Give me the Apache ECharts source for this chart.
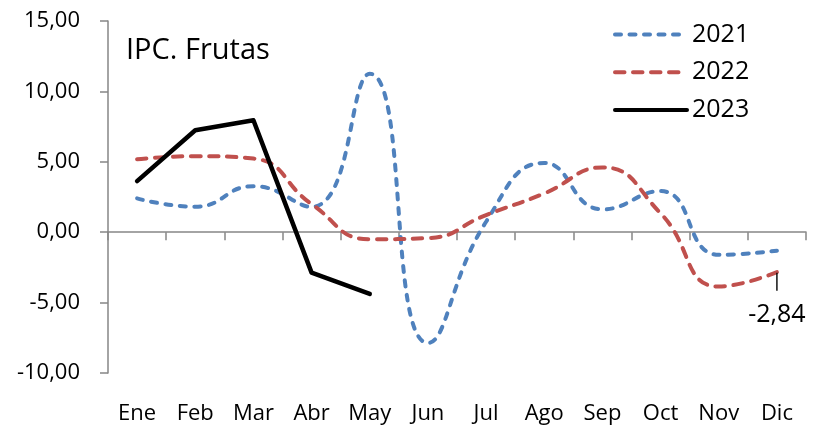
<!DOCTYPE html>
<html>
<head>
<meta charset="utf-8">
<script src="https://cdn.jsdelivr.net/npm/echarts@6/dist/echarts.min.js"></script>
<style>html,body{margin:0;padding:0;background:#fff;}#c{width:815px;height:427px;}</style>
</head>
<body>
<div id="c"></div>
<script>
const months = ['Ene','Feb','Mar','Abr','May','Jun','Jul','Ago','Sep','Oct','Nov','Dic'];
const s2021 = [2.40, 1.81, 3.27, 1.80, 11.25, -7.87, 0.74, 4.92, 1.62, 2.92, -1.61, -1.31];
const s2022 = [5.18, 5.40, 5.23, 2.00, -0.50, -0.42, 1.22, 2.75, 4.60, 1.34, -3.86, -2.84];
const s2023 = [3.63, 7.24, 7.95, -2.87, -4.38];
const yTicks = {min: -10, max: 15, interval: 5};
const FONT = 'Open Sans';

const fmt = v => v.toFixed(2).replace('.', ',');

const chart = echarts.init(document.getElementById('c'), null, {renderer: 'canvas'});
const lastIdx = s2022.length - 1;
const d2022 = s2022.map((v, i) => i === lastIdx ? {
  value: v, symbol: 'circle', symbolSize: 1, itemStyle: {color: 'rgba(0,0,0,0)'},
  label: {show: true, position: 'bottom', distance: 0, align: 'center',
    formatter: p => '{bar|}\n{t|' + fmt(p.value) + '}',
    rich: {
      bar: {width: 1.4, height: 18, backgroundColor: '#000', align: 'center'},
      t: {color: '#000', fontFamily: FONT, fontSize: 25, lineHeight: 48, align: 'center'}
    }}
} : v);

chart.setOption({
  animation: false,
  backgroundColor: '#fff',
  textStyle: {fontFamily: FONT},
  title: {text: 'IPC. Frutas', left: 121, top: 31, textStyle: {fontFamily: FONT, fontSize: 29, fontWeight: 'normal', color: '#000'}},
  legend: {
    orient: 'vertical', left: 608, top: 17, itemWidth: 72, itemHeight: 25, itemGap: 12.7,
    itemStyle: {opacity: 0},
    lineStyle: {width: 4},
    textStyle: {fontFamily: FONT, fontSize: 25, color: '#000'},
    data: ['2021', '2022', '2023']
  },
  grid: {left: 108, right: 9, top: 21, bottom: 54, containLabel: false},
  xAxis: [
    {type: 'category', data: months, boundaryGap: true,
     axisLine: {onZero: true, lineStyle: {color: '#868686', width: 1.5}},
     axisTick: {show: true, length: 8, lineStyle: {color: '#868686', width: 1.5}},
     axisLabel: {show: false}},
    {type: 'category', data: months, position: 'bottom', boundaryGap: true,
     axisLine: {show: false, onZero: false}, axisTick: {show: false},
     axisLabel: {show: true, margin: 30, color: '#000', fontFamily: FONT, fontSize: 22}}
  ],
  yAxis: {
    type: 'value', min: yTicks.min, max: yTicks.max, interval: yTicks.interval,
    splitLine: {show: false},
    axisLine: {show: true, lineStyle: {color: '#868686', width: 1.5}},
    axisTick: {show: true, length: 8, lineStyle: {color: '#868686', width: 1.5}},
    axisLabel: {formatter: v => fmt(v), margin: 28, color: '#000', fontFamily: FONT, fontSize: 22}
  },
  series: [
    {name: '2021', type: 'line', data: s2021, smooth: 0.5, symbol: 'none',
     lineStyle: {color: '#4F81BD', width: 4, type: [6, 8.5], cap: 'round'}, itemStyle: {color: '#4F81BD'}},
    {name: '2022', type: 'line', data: d2022, smooth: 0.5, symbol: 'none', showSymbol: true,
     lineStyle: {color: '#C0504D', width: 4, type: [9.5, 8.5], cap: 'round'}, itemStyle: {color: '#C0504D'}},
    {name: '2023', type: 'line', data: s2023, smooth: false, symbol: 'none',
     lineStyle: {color: '#000', width: 4.5, cap: 'round', join: 'round'}, itemStyle: {color: '#000'}}
  ]
});
</script>
</body>
</html>
